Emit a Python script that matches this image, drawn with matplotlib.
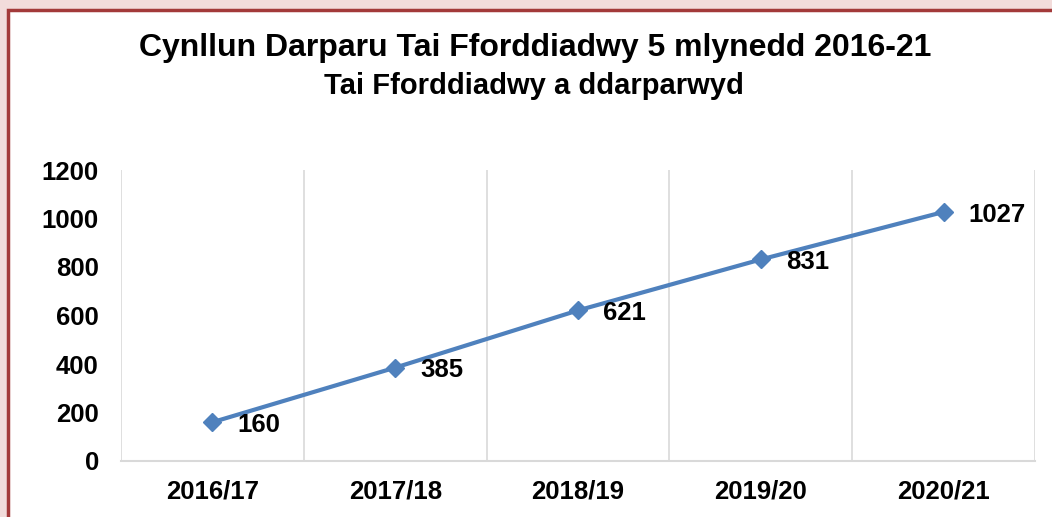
import matplotlib.pyplot as plt
from matplotlib.patches import Rectangle

years = ['2016/17', '2017/18', '2018/19', '2019/20', '2020/21']
delivered = [160, 385, 621, 831, 1027]
y_ticks = [0, 200, 400, 600, 800, 1000, 1200]

plt.rcParams['font.family'] = ['Liberation Sans', 'DejaVu Sans']
plt.rcParams['font.weight'] = 'bold'

W, H = 1052, 517
fig = plt.figure(figsize=(W / 100, H / 100), dpi=100)
fig.patch.set_facecolor('#f2dcdb')

# background axes holding the white panel with red border
bg = fig.add_axes([0, 0, 1, 1], zorder=-1)
bg.set_axis_off()
bg.set_xlim(0, W)
bg.set_ylim(H, 0)
bg.add_patch(Rectangle((8, 10), W + 20, H + 20, facecolor='white',
                       edgecolor='#a33a3a', linewidth=2.5))

ax = fig.add_axes([121 / W, (H - 461) / H, (1035 - 121) / W, (461 - 170) / H])
ax.set_facecolor('none')

x = list(range(len(years)))
ax.plot(x, delivered, color='#4f81bd', linewidth=3, marker='D',
        markersize=9, zorder=3)

for xi, v in zip(x, delivered):
    ax.annotate(str(v), (xi, v), xytext=(18, -2), textcoords='offset points',
                ha='left', va='center', fontsize=18.5, fontweight='bold')

ax.set_xlim(-0.5, len(years) - 0.5)
ax.set_ylim(0, 1200)
ax.set_yticks(y_ticks)
ax.set_xticks(x)
ax.set_xticklabels(years)

# vertical gridlines between categories
for b in [i - 0.5 for i in range(len(years) + 1)]:
    ax.axvline(b, color='#d9d9d9', linewidth=1.2, zorder=1)

for s in ['top', 'right', 'left']:
    ax.spines[s].set_visible(False)
ax.spines['bottom'].set_color('#d9d9d9')
ax.spines['bottom'].set_linewidth(1.5)
ax.tick_params(axis='both', length=0, labelsize=18.5)
ax.tick_params(axis='y', pad=16)
ax.tick_params(axis='x', pad=13)

fig.text(535 / W, 1 - 48 / H, 'Cynllun Darparu Tai Fforddiadwy 5 mlynedd 2016-21',
         ha='center', va='center', fontsize=23, fontweight='bold')
fig.text(534 / W, 1 - 86 / H, 'Tai Fforddiadwy a ddarparwyd',
         ha='center', va='center', fontsize=21, fontweight='bold')

fig.savefig('out.png', dpi=100, facecolor=fig.get_facecolor())
